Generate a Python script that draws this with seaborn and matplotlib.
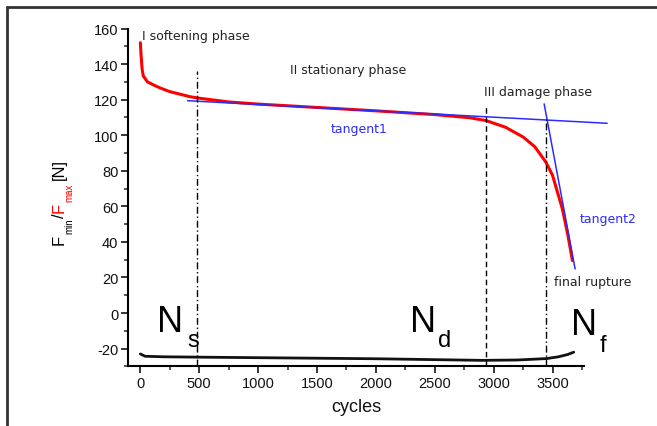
import numpy as np
import pandas as pd
import matplotlib
matplotlib.use("Agg")
import matplotlib.pyplot as plt
from matplotlib.lines import Line2D
import seaborn as sns

# ---- data ----
fmax_cycles = [0, 5, 15, 25, 60, 120, 170, 250, 425, 500, 750, 1000, 1500, 2000,
               2500, 2800, 2937, 3100, 3250, 3350, 3444, 3500, 3584, 3630, 3669]
fmax_values = [152, 146, 137, 133.3, 130, 128, 126.5, 124.5, 121.6, 120.8, 118.7,
               117.5, 115.6, 113.7, 111.6, 109.8, 108.2, 104.5, 99, 93.5, 84.8,
               77.5, 58.5, 44, 29.5]

fmin_cycles = [0, 40, 200, 500, 1000, 1500, 2000, 2500, 2900, 3200, 3450, 3550,
               3630, 3680]
fmin_values = [-23, -24.3, -24.6, -24.8, -25.1, -25.4, -25.7, -26.2, -26.6, -26.4,
               -25.6, -24.6, -23.3, -22]

tangent1_cycles = [401, 3964]
tangent1_values = [119.4, 106.7]
tangent2_cycles = [3429, 3692]
tangent2_values = [117.6, 24.8]

N_s, N_d, N_f = 477, 2937, 3444
vline_tops = [136.3, 115.9, 109]

x_ticks = [0, 500, 1000, 1500, 2000, 2500, 3000, 3500]
y_ticks = [-20, 0, 20, 40, 60, 80, 100, 120, 140, 160]

phase_labels = ["I softening phase", "II stationary phase", "III damage phase"]

# ---- style ----
sns.set_style("ticks")
plt.rcParams["font.family"] = ["DejaVu Sans"]

W, H = 657, 427
fig = plt.figure(figsize=(W / 100, H / 100), dpi=100)
ax = fig.add_axes([128 / W, (H - 367.4) / H, (584.3 - 128) / W, (367.4 - 29.5) / H])

df_max = pd.DataFrame({"cycles": fmax_cycles, "F": fmax_values})
df_min = pd.DataFrame({"cycles": fmin_cycles, "F": fmin_values})
df_t1 = pd.DataFrame({"cycles": tangent1_cycles, "F": tangent1_values})
df_t2 = pd.DataFrame({"cycles": tangent2_cycles, "F": tangent2_values})

sns.lineplot(data=df_min, x="cycles", y="F", ax=ax, color="#111111", lw=2.0,
             sort=False, estimator=None)
sns.lineplot(data=df_max, x="cycles", y="F", ax=ax, color="#ff0000", lw=2.2,
             sort=False, estimator=None)
sns.lineplot(data=df_t1, x="cycles", y="F", ax=ax, color="#2b2bff", lw=1.1,
             sort=False, estimator=None)
sns.lineplot(data=df_t2, x="cycles", y="F", ax=ax, color="#2b2bff", lw=1.1,
             sort=False, estimator=None)
for ln in ax.get_lines():
    ln.set_clip_on(False)

# vertical phase boundaries
ax.plot([N_s, N_s], [-30, vline_tops[0]], color="black", lw=1.0,
        dashes=[5, 2, 1, 2], clip_on=False)
ax.plot([N_d, N_d], [-30, vline_tops[1]], color="black", lw=1.0,
        dashes=[4, 2.5], clip_on=False)
ax.plot([N_f, N_f], [-30, vline_tops[2]], color="black", lw=1.0,
        dashes=[5, 2, 1, 2], clip_on=False)

ax.set_xlim(-105, 3770)
ax.set_ylim(-30, 160)
ax.set_xticks(x_ticks)
ax.set_yticks(y_ticks)
ax.set_xticks(np.arange(250, 3770, 500), minor=True)
ax.set_yticks(np.arange(-30, 161, 20), minor=True)
tick_font = ["Liberation Sans"]
ax.set_xticklabels([str(v) for v in x_ticks], fontsize=10.5, family=tick_font, color="#111")
ax.set_yticklabels([str(v) for v in y_ticks], fontsize=10.5, family=tick_font, color="#111")
ax.tick_params(which="major", direction="out", length=5, width=1.3, pad=2)
ax.tick_params(which="minor", direction="out", length=3, width=1.1)
for s in ["left", "bottom"]:
    ax.spines[s].set_linewidth(1.5)
    ax.spines[s].set_color("black")
sns.despine(ax=ax)
ax.set_xlabel("cycles", fontsize=13, family=["Liberation Sans"], labelpad=6, color="#111")
ax.set_ylabel("")

# annotations
tc = "#222222"
ax.text(12, 156.3, phase_labels[0], fontsize=9, color=tc, va="center", ha="left")
ax.text(1767, 136.7, phase_labels[1], fontsize=9, color=tc, va="center", ha="center")
ax.text(3379, 124.3, phase_labels[2], fontsize=9, color=tc, va="center", ha="center",
        clip_on=False)
ax.text(1860, 103.5, "tangent1", fontsize=9, color="#2b2bff", va="center", ha="center")
ax.text(3727, 52.9, "tangent2", fontsize=9, color="#2b2bff", va="center", ha="left",
        clip_on=False)
ax.text(3514, 17.5, "final rupture", fontsize=9, color=tc, va="center", ha="left",
        clip_on=False)

# N labels (pixel placements converted via figure fractions)
nfont = ["Liberation Sans"]
def ftext(px, py, s, size, color="black", **kw):
    fig.text(px / W, (H - py) / H, s, fontsize=size, color=color, family=nfont,
             ha="left", va="baseline", **kw)

ftext(157, 332, "N", 26)
ftext(187, 347, "s", 17)
ftext(410, 332, "N", 26)
ftext(438, 347, "d", 17)
ftext(571, 335, "N", 26)
ftext(600, 352, "f", 17)

# y label with mixed colours (rotated), pieces chained bottom-to-top
renderer = fig.canvas.get_renderer()
pieces = [("F", 12, "black", 0), ("min", 7, "black", 8), ("/", 12, "black", 0),
          ("F", 12, "#ff0000", 0), ("max", 7, "#ff0000", 8), ("[N]", 12, "black", 0)]
gaps = [0.5, 0.5, 0.5, 0.5, 4, 0]
ypix = 245.0
base_x = 64.0
for (s, size, col, off), gap in zip(pieces, gaps):
    t = fig.text((base_x + off) / W, (H - ypix) / H, s, fontsize=size, color=col,
                 family=["Liberation Sans"], rotation=90, rotation_mode="anchor",
                 ha="left", va="baseline")
    ext = t.get_window_extent(renderer=renderer)
    ypix -= ext.height + gap

# figure frame (top and left edges)
fig.add_artist(Line2D([7 / W, 7 / W], [0, (H - 8) / H], color="#333333", lw=2,
                      transform=fig.transFigure))
fig.add_artist(Line2D([7 / W, 1], [(H - 8) / H, (H - 8) / H], color="#333333", lw=2,
                      transform=fig.transFigure))

fig.savefig("out.png", dpi=100)
